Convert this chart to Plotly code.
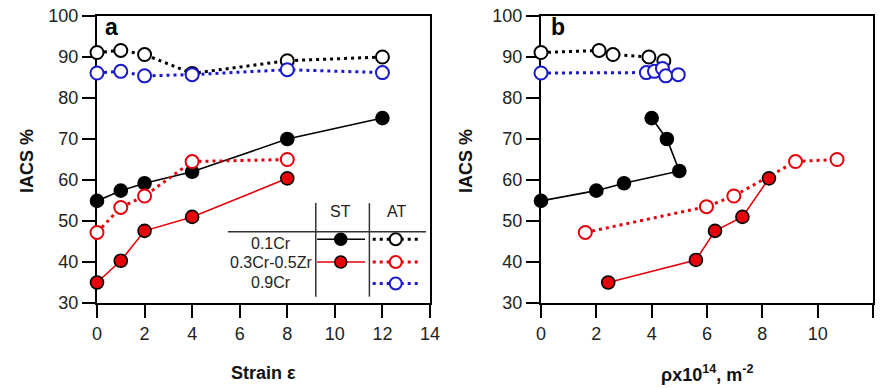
import plotly.graph_objects as go

# ---- data -------------------------------------------------------------
# panel a: IACS vs true strain
strain_st_01cr = [0, 1, 2, 4, 8, 12]
iacs_st_01cr = [54.9, 57.4, 59.2, 62.0, 70.0, 75.1]
strain_at_01cr = [0, 1, 2, 4, 8, 12]
iacs_at_01cr = [91.1, 91.6, 90.6, 86.0, 89.1, 90.0]

strain_st_crzr = [0, 1, 2, 4, 8]
iacs_st_crzr = [35.0, 40.3, 47.6, 51.0, 60.4]
strain_at_crzr = [0, 1, 2, 4, 8]
iacs_at_crzr = [47.2, 53.3, 56.1, 64.5, 65.0]

strain_at_09cr = [0, 1, 2, 4, 8, 12]
iacs_at_09cr = [86.1, 86.5, 85.4, 85.7, 86.9, 86.2]

# panel b: IACS vs dislocation density (x10^14 m^-2)
rho_st_01cr = [0, 2.0, 3.0, 5.0, 4.55, 4.0]
iacs_b_st_01cr = [54.9, 57.4, 59.2, 62.2, 70.0, 75.1]
rho_at_01cr = [0, 2.1, 2.6, 3.9, 4.44]
iacs_b_at_01cr = [91.1, 91.6, 90.6, 90.0, 89.1]

rho_st_crzr = [2.43, 5.6, 6.29, 7.28, 8.24]
iacs_b_st_crzr = [35.0, 40.5, 47.6, 51.0, 60.4]
rho_at_crzr = [1.6, 5.98, 6.97, 9.2, 10.7]
iacs_b_at_crzr = [47.2, 53.5, 56.1, 64.5, 65.0]

rho_at_09cr = [0, 3.81, 4.1, 4.39, 4.51, 4.96]
iacs_b_at_09cr = [86.1, 86.2, 86.5, 87.2, 85.4, 85.7]

# legend table rows
alloy_names = ["0.1Cr", "0.3Cr-0.5Zr", "0.9Cr"]
state_names = ["ST", "AT"]

# ---- styles -----------------------------------------------------------
BLACK = "#000000"
RED = "#e6000a"
BLUE = "#1a1acc"
FONT = "Liberation Sans, Arial, sans-serif"
MS = 13


def st_trace(x, y, fill, line_color, xa, ya):
    return go.Scatter(
        x=x, y=y, mode="lines+markers", xaxis=xa, yaxis=ya, cliponaxis=False,
        line=dict(color=line_color, width=1.6),
        marker=dict(size=MS, color=fill, line=dict(color=BLACK, width=1.6)),
        showlegend=False, hoverinfo="skip",
    )


def at_trace(x, y, color, xa, ya):
    return go.Scatter(
        x=x, y=y, mode="lines+markers", xaxis=xa, yaxis=ya, cliponaxis=False,
        line=dict(color=color, width=3, dash="3px,4px"),
        marker=dict(size=MS, color="white", line=dict(color=color, width=2)),
        showlegend=False, hoverinfo="skip",
    )


fig = go.Figure()

# panel a
fig.add_trace(st_trace(strain_st_01cr, iacs_st_01cr, BLACK, BLACK, "x", "y"))
fig.add_trace(st_trace(strain_st_crzr, iacs_st_crzr, RED, RED, "x", "y"))
fig.add_trace(at_trace(strain_at_01cr, iacs_at_01cr, BLACK, "x", "y"))
fig.add_trace(at_trace(strain_at_crzr, iacs_at_crzr, RED, "x", "y"))
fig.add_trace(at_trace(strain_at_09cr, iacs_at_09cr, BLUE, "x", "y"))

# panel b
fig.add_trace(st_trace(rho_st_01cr, iacs_b_st_01cr, BLACK, BLACK, "x2", "y2"))
fig.add_trace(at_trace(rho_at_01cr, iacs_b_at_01cr, BLACK, "x2", "y2"))
fig.add_trace(at_trace(rho_at_crzr, iacs_b_at_crzr, RED, "x2", "y2"))
fig.add_trace(st_trace(rho_st_crzr, iacs_b_st_crzr, RED, RED, "x2", "y2"))
fig.add_trace(at_trace(rho_at_09cr, iacs_b_at_09cr, BLUE, "x2", "y2"))

# ---- legend table drawn inside panel a (unit overlay axes) ------------
row_y = [0.222, 0.143, 0.068]
st_x = [0.661, 0.732, 0.805]
at_x = [0.828, 0.897, 0.975]
st_styles = [(BLACK, BLACK), (RED, RED), None]
at_colors = [BLACK, RED, BLUE]
for i, yy in enumerate(row_y):
    if st_styles[i] is not None:
        fill, lc = st_styles[i]
        fig.add_trace(go.Scatter(
            x=st_x[::2], y=[yy, yy], mode="lines", xaxis="x3", yaxis="y3",
            line=dict(color=lc, width=1.6), showlegend=False, hoverinfo="skip"))
        fig.add_trace(go.Scatter(
            x=[st_x[1]], y=[yy], mode="markers", xaxis="x3", yaxis="y3",
            marker=dict(size=MS - 1, color=fill, line=dict(color=BLACK, width=1.6)),
            showlegend=False, hoverinfo="skip"))
    c = at_colors[i]
    fig.add_trace(go.Scatter(
        x=at_x[::2], y=[yy, yy], mode="lines", xaxis="x3", yaxis="y3",
        line=dict(color=c, width=3, dash="3px,4px"), showlegend=False, hoverinfo="skip"))
    fig.add_trace(go.Scatter(
        x=[at_x[1]], y=[yy], mode="markers", xaxis="x3", yaxis="y3",
        marker=dict(size=MS - 1, color="white", line=dict(color=c, width=2)),
        showlegend=False, hoverinfo="skip"))

TABLE_LINE = dict(color="#333333", width=1.5)
shapes = [
    dict(type="line", xref="x3", yref="y3", x0=0.393, x1=0.988, y0=0.248, y1=0.248, line=TABLE_LINE),
    dict(type="line", xref="x3", yref="y3", x0=0.657, x1=0.657, y0=0.022, y1=0.348, line=TABLE_LINE),
    dict(type="line", xref="x3", yref="y3", x0=0.818, x1=0.818, y0=0.022, y1=0.348, line=TABLE_LINE),
]

annotations = []
for name, yy in zip(alloy_names, [0.209, 0.141, 0.071]):
    annotations.append(dict(text=name, x=0.523, y=yy, xref="x3", yref="y3",
                            xanchor="center", yanchor="middle",
                            showarrow=False, font=dict(family=FONT, size=16, color="#222")))
for name, xx in zip(state_names, [0.730, 0.900]):
    annotations.append(dict(text=name, x=xx, y=0.318, xref="x3", yref="y3",
                            xanchor="center", yanchor="middle",
                            showarrow=False, font=dict(family=FONT, size=16, color="#222")))

# panel letters
annotations += [
    dict(text="<b>a</b>", x=0.045, y=0.962, xref="x domain", yref="y domain", showarrow=False,
         xanchor="center", yanchor="middle", font=dict(family=FONT, size=23, color="black")),
    dict(text="<b>b</b>", x=0.052, y=0.962, xref="x2 domain", yref="y2 domain", showarrow=False,
         xanchor="center", yanchor="middle", font=dict(family=FONT, size=23, color="black")),
]

# axis titles
W, H = 883, 389
title_font = dict(family=FONT, size=18, color="#111")
annotations += [
    dict(text="<b>IACS %</b>", x=27 / W, y=1 - 161 / H, xref="paper", yref="paper",
         xanchor="center", yanchor="middle", textangle=-90, showarrow=False, font=title_font),
    dict(text="<b>IACS %</b>", x=466 / W, y=1 - 161 / H, xref="paper", yref="paper",
         xanchor="center", yanchor="middle", textangle=-90, showarrow=False, font=title_font),
    dict(text="<b>Strain ε</b>", x=263.5 / W, y=1 - 373 / H, xref="paper", yref="paper",
         xanchor="center", yanchor="middle", showarrow=False, font=title_font),
    dict(text="<b>ρx10<sup>14</sup>, m<sup>-2</sup></b>", x=707 / W, y=1 - 373 / H,
         xref="paper", yref="paper", xanchor="center", yanchor="middle",
         showarrow=False, font=title_font),
]

XA = [97 / W, 430 / W]
XB = [541 / W, 873 / W]
YD = [86 / H, 373 / H]

common = dict(
    showline=True, mirror=True, linewidth=2, linecolor="black",
    ticks="outside", ticklen=13, tickwidth=2, tickcolor="black",
    showgrid=False, zeroline=False, automargin=False, layer="below traces",
    tickfont=dict(family=FONT, size=18, color="#222"),
)

fig.update_layout(
    width=W, height=H,
    margin=dict(l=0, r=0, t=0, b=0),
    paper_bgcolor="white", plot_bgcolor="white",
    xaxis=dict(domain=XA, range=[0, 14], dtick=2, anchor="y", **common),
    yaxis=dict(domain=YD, range=[30, 100], dtick=10, anchor="x", **common),
    xaxis2=dict(domain=XB, range=[0, 12], dtick=2, anchor="y2", **common),
    yaxis2=dict(domain=YD, range=[30, 100], dtick=10, anchor="x2", **common),
    xaxis3=dict(range=[0, 1], anchor="y3", overlaying="x", visible=False, fixedrange=True),
    yaxis3=dict(range=[0, 1], anchor="x3", overlaying="y", visible=False, fixedrange=True),
    shapes=shapes,
    annotations=annotations,
)

fig.write_html("out.html")
